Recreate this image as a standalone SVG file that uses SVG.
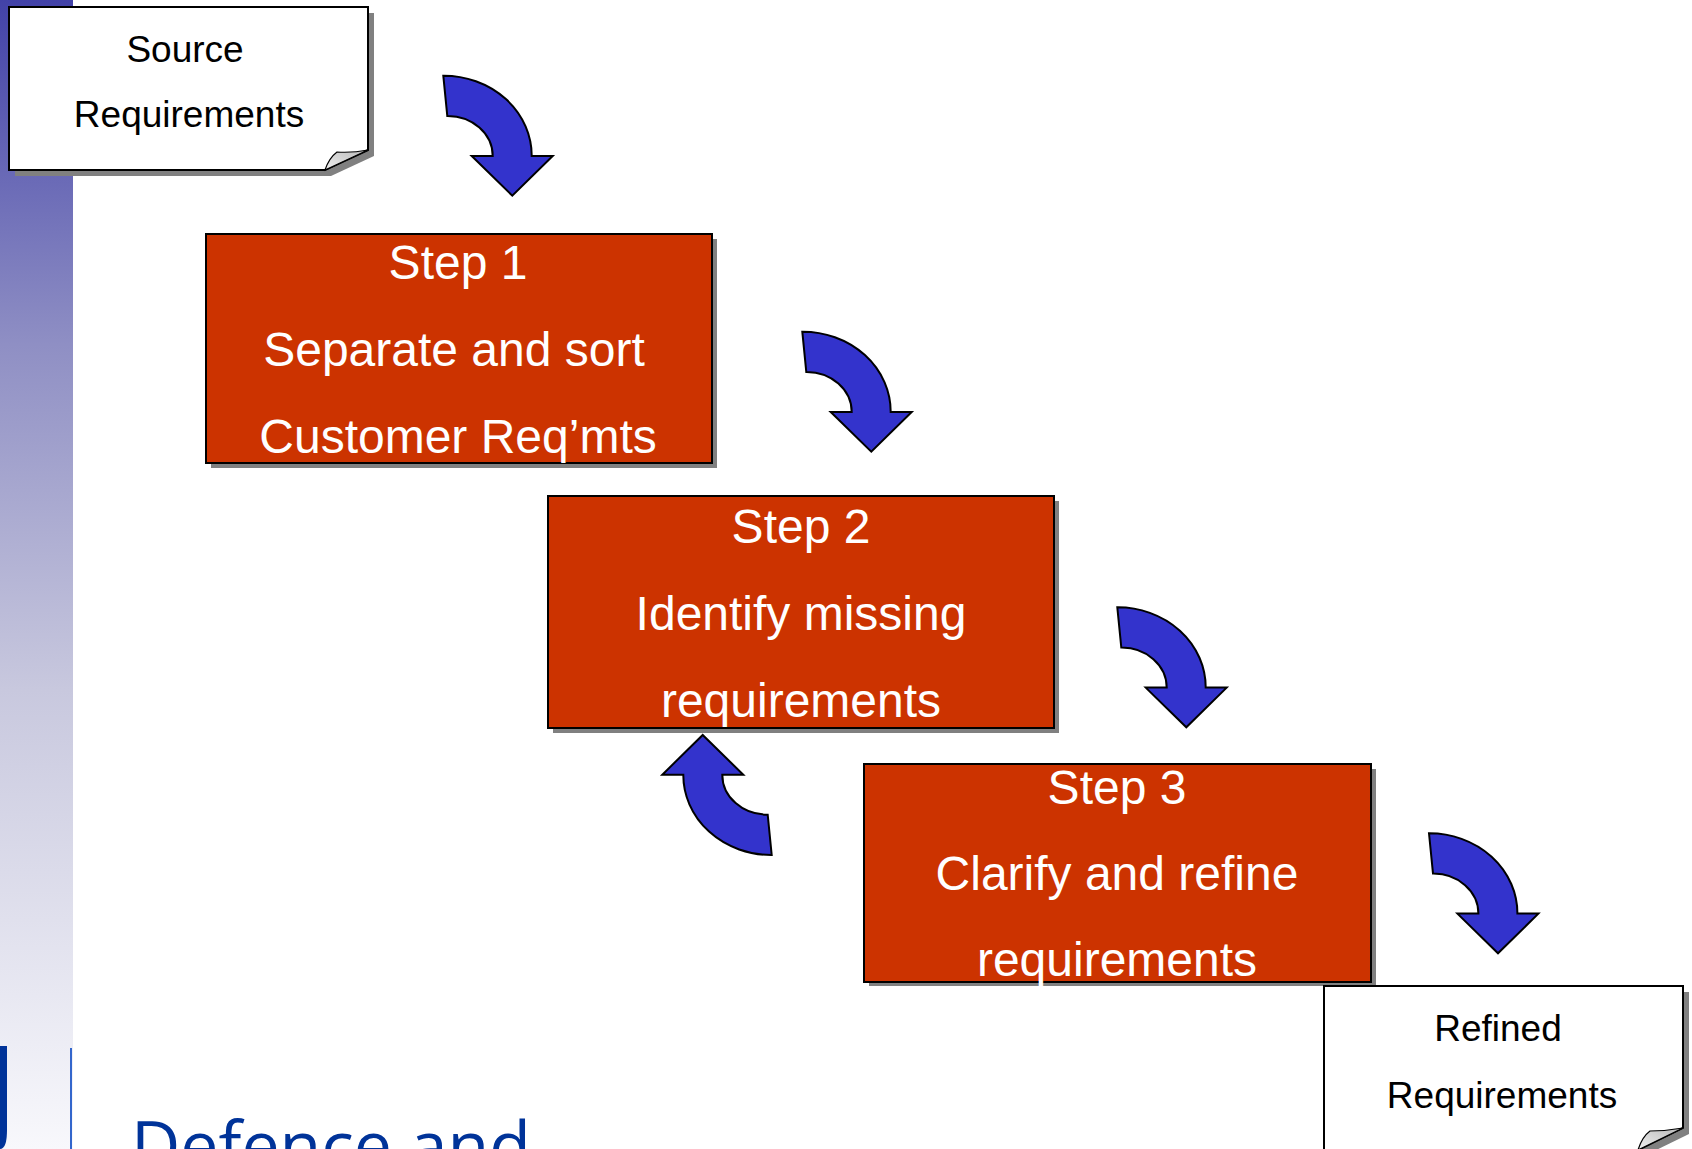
<svg xmlns="http://www.w3.org/2000/svg" width="1692" height="1149" viewBox="0 0 1692 1149">
  <defs>
    <linearGradient id="sidebar" x1="0" y1="0" x2="0" y2="1">
      <stop offset="0" stop-color="#4242a8"/>
      <stop offset="0.3" stop-color="#8f8fc4"/>
      <stop offset="0.6" stop-color="#c8c8de"/>
      <stop offset="1" stop-color="#f8f8fc"/>
    </linearGradient>
    <linearGradient id="curl" x1="0" y1="1" x2="1" y2="0">
      <stop offset="0" stop-color="#f0f0f0"/>
      <stop offset="1" stop-color="#b8b8b8"/>
    </linearGradient>
    <!-- curved block arrow, origin at the outer end of the tail -->
    <path id="curvedArrow" d="M0,0 A88,80 0 0 1 88.4,80.3 L109.4,80.3 L69,120 L28.4,80.3 L49.4,80.3 A45,40 0 0 0 4,40.3 Z"/>
  </defs>
  <style>
    .doc { fill: #ffffff; stroke: #000000; stroke-width: 2; }
    .shadow { fill: #808080; }
    .curl { fill: url(#curl); stroke: #000000; stroke-width: 1.2; }
    .step { fill: #cc3300; stroke: #000000; stroke-width: 2; }
    .arrow { fill: #3333cc; stroke: #000000; stroke-width: 2; stroke-linejoin: miter; }
    .docText { font-family: "Liberation Sans", Arial, sans-serif; font-size: 37px; fill: #000000; text-anchor: middle; }
    .stepText { font-family: "Liberation Sans", Arial, sans-serif; font-size: 48px; fill: #ffffff; text-anchor: middle; }
    .brand { font-family: "Open Sans", "Noto Sans", sans-serif; font-size: 68px; fill: #003399; }
  </style>

  <rect width="1692" height="1149" fill="#ffffff"/>

  <!-- left sidebar band -->
  <g id="sidebar-band">
    <rect x="0" y="0" width="73" height="1149" fill="url(#sidebar)"/>
    <path d="M0,1046 H7 V1130 Q7,1149 0,1149 Z" fill="#003399"/>
    <line x1="71" y1="1048" x2="71" y2="1149" stroke="#3366cc" stroke-width="2"/>
    <text class="brand" x="131" y="1170">Defence and</text>
  </g>

  <!-- source document -->
  <g id="source">
    <path class="shadow" d="M15,13 H374 V156 L331,176 H15 Z"/>
    <path class="doc" d="M9,7 H368 V150 L325,170 H9 Z"/>
    <path class="curl" d="M325,170 Q329,158 337,152 Q352,153 368,150 Z"/>
    <text class="docText" x="185" y="62">Source</text>
    <text class="docText" x="189" y="127">Requirements</text>
  </g>

  <!-- step 1 -->
  <g id="step1">
    <rect class="shadow" x="211" y="239" width="506" height="229"/>
    <rect class="step" x="206" y="234" width="506" height="229"/>
    <text class="stepText" x="458" y="279">Step 1</text>
    <text class="stepText" x="454" y="366">Separate and sort</text>
    <text class="stepText" x="458" y="453">Customer Req’mts</text>
  </g>

  <!-- step 2 -->
  <g id="step2">
    <rect class="shadow" x="553" y="501" width="506" height="232"/>
    <rect class="step" x="548" y="496" width="506" height="232"/>
    <text class="stepText" x="801" y="543">Step 2</text>
    <text class="stepText" x="801" y="630">Identify missing</text>
    <text class="stepText" x="801" y="717">requirements</text>
  </g>

  <!-- step 3 -->
  <g id="step3">
    <rect class="shadow" x="869" y="769" width="507" height="217"/>
    <rect class="step" x="864" y="764" width="507" height="218"/>
    <text class="stepText" x="1117" y="804">Step 3</text>
    <text class="stepText" x="1117" y="890">Clarify and refine</text>
    <text class="stepText" x="1117" y="976">requirements</text>
  </g>

  <!-- refined document -->
  <g id="refined">
    <path class="shadow" d="M1330,992 H1689 V1134 L1644,1156 H1330 Z"/>
    <path class="doc" d="M1324,986 H1683 V1128 L1638,1150 H1324 Z"/>
    <path class="curl" d="M1638,1150 Q1642,1137 1650,1131 Q1666,1131 1683,1128 Z"/>
    <text class="docText" x="1498" y="1041">Refined</text>
    <text class="docText" x="1502" y="1108">Requirements</text>
  </g>

  <!-- flow arrows -->
  <g id="connectors">
    <use href="#curvedArrow" class="arrow" transform="translate(443.3,75.7)"/>
    <use href="#curvedArrow" class="arrow" transform="translate(802.3,331.7)"/>
    <use href="#curvedArrow" class="arrow" transform="translate(1117.3,607.3)"/>
    <use href="#curvedArrow" class="arrow" transform="translate(1429,833.3)"/>
    <use href="#curvedArrow" class="arrow" transform="translate(771.7,855) rotate(180)"/>
  </g>
</svg>
